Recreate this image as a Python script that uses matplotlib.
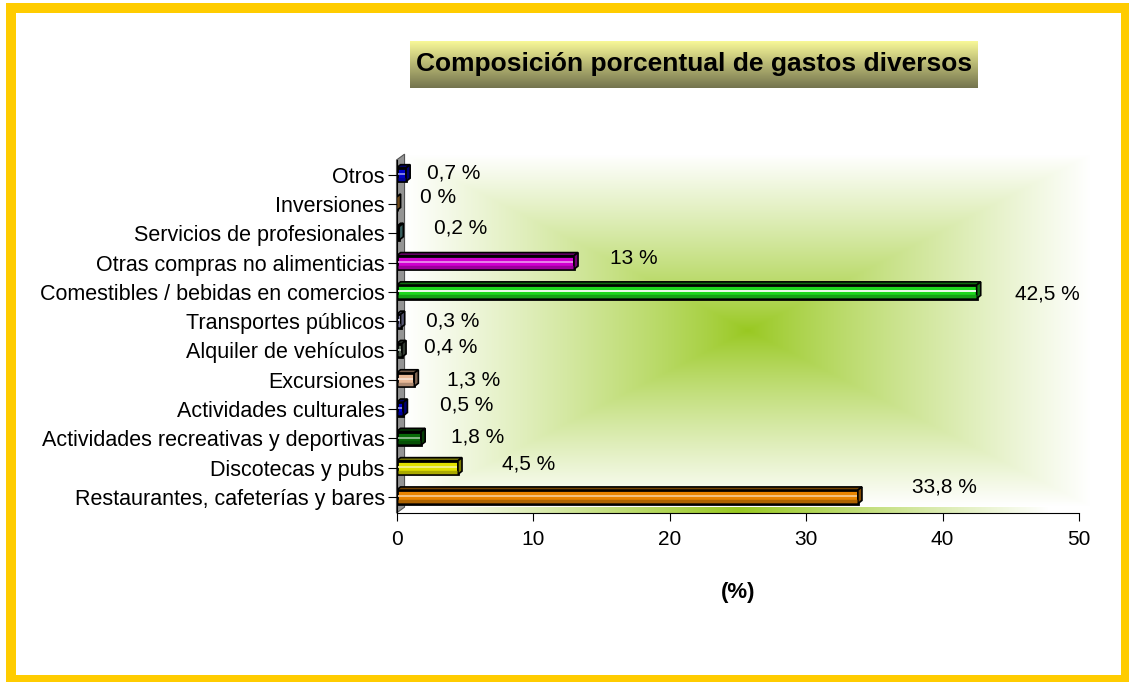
import numpy as np
import matplotlib
matplotlib.use("Agg")
import matplotlib.pyplot as plt
from matplotlib.patches import Rectangle, Polygon
from matplotlib.colors import to_rgb

plt.rcParams['font.family'] = ['Liberation Sans', 'DejaVu Sans']

# data (bottom to top)
categories = ['Restaurantes, cafeterías y bares', 'Discotecas y pubs',
              'Actividades recreativas y deportivas', 'Actividades culturales',
              'Excursiones', 'Alquiler de vehículos', 'Transportes públicos',
              'Comestibles / bebidas en comercios', 'Otras compras no alimenticias',
              'Servicios de profesionales', 'Inversiones', 'Otros']
values = [33.8, 4.5, 1.8, 0.5, 1.3, 0.4, 0.3, 42.5, 13, 0.2, 0, 0.7]
labels = ['33,8 %', '4,5 %', '1,8 %', '0,5 %', '1,3 %', '0,4 %', '0,3 %',
          '42,5 %', '13 %', '0,2 %', '0 %', '0,7 %']
xticks = [0, 10, 20, 30, 40, 50]

# styles
bar_colors = ['#E88400', '#E2E200', '#086C08', '#0000CC', '#E8B896', '#5A6A5A',
              '#9A9ACC', '#1ED81E', '#D000D0', '#66AAAA', '#CC8833', '#0000CC']
# label offsets in pixels (gap after bar end, vertical shift up)
label_dx = [54, 44, 30, 37, 33, 22, 25, 38, 36, 35, 23, 21]
label_dy = [10, 4, 1, 4, 0, 3, 0, -2, 4, 5, 6, 2]

W, H = 1129, 682
fig = plt.figure(figsize=(W / 100, H / 100), dpi=100)
fig.patch.set_facecolor('white')

# yellow frame
fig.patches.append(Rectangle((11 / W, 1 - 680 / H), (1126 - 11) / W, (680 - 8) / H,
                             transform=fig.transFigure, fill=False,
                             edgecolor='#FFCC00', linewidth=7.2, zorder=0))

# title box with vertical gradient
tax = fig.add_axes([410 / W, 1 - 88 / H, 568 / W, 47 / H])
top = np.array([248, 248, 152]) / 255
bot = np.array([116, 116, 78]) / 255
g = np.linspace(0, 1, 100)[:, None, None]
tax.imshow(top * (1 - g) + bot * g, aspect='auto', extent=(0, 1, 0, 1))
tax.set_axis_off()
tax.text(0.5, 0.5, 'Composición porcentual de gastos diversos', ha='center',
         va='center', fontsize=19, fontweight='bold', transform=tax.transAxes)

ax = fig.add_axes([396.5 / W, 1 - 513 / H, 682.5 / W, 353 / H])
ymin, ymax = -0.55, 11.5
wx, wy = 0.59, 0.2   # wall depth in data units

# back wall gradient ("from center" rectangle)
nx, ny = 400, 220
xx, yy = np.meshgrid(np.linspace(-1, 1, nx), np.linspace(-1, 1, ny))
t = np.maximum(np.abs(xx), np.abs(yy)) ** 0.85
green = np.array(to_rgb('#98C820'))
img = green * (1 - t[..., None]) + np.ones(3) * t[..., None]
ax.imshow(img, aspect='auto', extent=(wx, 50.8, ymin + wy, ymax + wy),
          zorder=0, clip_on=False, interpolation='bilinear')

# floor strip
fx = np.linspace(-1, 1, 400)
ft = np.clip(np.abs(fx) * 1.1, 0, 1)
floor = green * (1 - ft[None, :, None]) + np.ones(3) * ft[None, :, None]
ax.imshow(floor, aspect='auto', extent=(0, 50, ymin, ymin + wy), zorder=0.5,
          clip_on=False, interpolation='bilinear')

# left gray wall
ax.add_patch(Polygon([(0, ymin), (wx, ymin + wy), (wx, ymax + wy), (0, ymax)],
                     closed=True, facecolor='#949494', edgecolor='#555555',
                     linewidth=0.8, zorder=1, clip_on=False))

pos = np.arange(len(categories))
h = 0.46
dx, dy = 0.3, 0.11
ax.barh(pos, values, height=h, color=bar_colors, edgecolor='black',
        linewidth=2, zorder=3)
for y, v, c in zip(pos, values, bar_colors):
    rgb = np.array(to_rgb(c))
    # highlight stripe
    if v > 0:
        hl = np.ones(3) if v > 40 else rgb * 0.45 + 0.55
        ax.plot([0.12, v - 0.08], [y + h * 0.05] * 2, color=hl,
                linewidth=1.3, zorder=3.5, solid_capstyle='butt')
        ax.plot([0.12, v - 0.08], [y - h * 0.3] * 2, color=rgb * 0.75,
                linewidth=2.5, zorder=3.5, solid_capstyle='butt')
    ax.add_patch(Polygon([(0, y + h / 2), (v, y + h / 2), (v + dx, y + h / 2 + dy),
                          (dx, y + h / 2 + dy)], closed=True, facecolor=rgb * 0.5,
                         edgecolor='black', linewidth=1.2, zorder=3.2))
    ax.add_patch(Polygon([(v, y - h / 2), (v + dx, y - h / 2 + dy),
                          (v + dx, y + h / 2 + dy), (v, y + h / 2)], closed=True,
                         facecolor=rgb * 0.55, edgecolor='black', linewidth=1.2,
                         zorder=3.2))

for y, v, lab, ddx, ddy in zip(pos, values, labels, label_dx, label_dy):
    ax.annotate(lab, xy=(v, y), xytext=(ddx, ddy), textcoords='offset pixels',
                ha='left', va='center', fontsize=15, zorder=5)

ax.set_xlim(0, 50)
ax.set_ylim(ymin, ymax)
ax.set_xticks(xticks)
ax.set_xticklabels([str(x) for x in xticks], fontsize=15)
ax.set_yticks(pos)
ax.set_yticklabels(categories, fontsize=15.5)
ax.tick_params(axis='y', length=6.5, width=0.8, pad=2)
ax.tick_params(axis='x', length=6, width=0.8, pad=6)
ax.set_xlabel('(%)', fontsize=16, fontweight='bold', labelpad=24)
ax.patch.set_alpha(0)
for s in ['top', 'right']:
    ax.spines[s].set_visible(False)
ax.spines['left'].set_linewidth(0.8)
ax.spines['bottom'].set_linewidth(0.8)
ax.spines['left'].set_zorder(2)

fig.savefig('out.png', dpi=100)
